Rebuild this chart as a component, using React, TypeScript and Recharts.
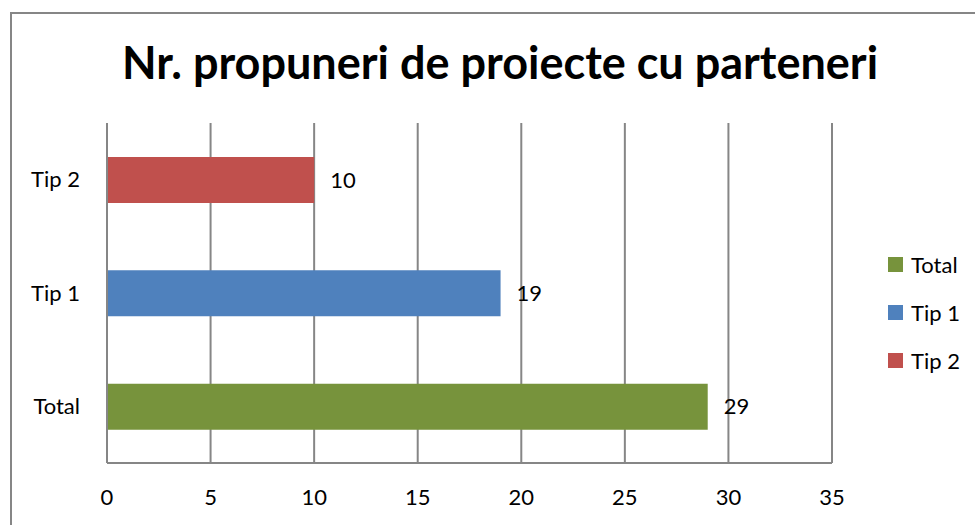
import React from 'react';
import { BarChart, Bar, XAxis, YAxis, CartesianGrid, Cell, LabelList } from 'recharts';

const CATEGORIES = ['Tip 2', 'Tip 1', 'Total'];
const VALUES = [10, 19, 29];
const COLORS = ['#C0504D', '#4F81BD', '#77933C'];
const X_TICKS = [0, 5, 10, 15, 20, 25, 30, 35];
const LEGEND_ORDER = ['Total', 'Tip 1', 'Tip 2'];

const FONT = 'Lato, "Open Sans", sans-serif';
const AXIS_GRAY = '#868686';
const TEXT_SIZE = 22;

const data = CATEGORIES.map((name, i) => ({ name, value: VALUES[i], color: COLORS[i] }));

// legend drawn beside the chart so it does not eat into the plot area
function LegendBox() {
  return (
    <div
      style={{
        position: 'absolute',
        left: 888,
        top: 240,
        fontFamily: FONT,
        fontSize: TEXT_SIZE,
        color: '#000',
      }}
    >
      {LEGEND_ORDER.map((name) => {
        const row = data.find((d) => d.name === name)!;
        return (
          <div key={name} style={{ display: 'flex', alignItems: 'center', height: 48 }}>
            <span style={{ width: 15, height: 15, background: row.color, display: 'block', marginRight: 8 }} />
            <span>{name}</span>
          </div>
        );
      })}
    </div>
  );
}

export default function App() {
  return (
    <div style={{ position: 'fixed', left: 0, top: 0, width: 975, height: 525, background: '#fff', overflow: 'hidden' }}>
      <div
        style={{
          position: 'absolute',
          left: 10,
          top: 12,
          width: 1000,
          height: 600,
          borderLeft: `2px solid ${AXIS_GRAY}`,
          borderTop: `2px solid ${AXIS_GRAY}`,
        }}
      />
      <div
        style={{
          position: 'absolute',
          left: 0,
          top: 34,
          width: 1000,
          textAlign: 'center',
          fontFamily: FONT,
          fontWeight: 700,
          fontSize: 45,
          lineHeight: '56px',
          color: '#000',
        }}
      >
        Nr. propuneri de proiecte cu parteneri
      </div>
      <div style={{ position: 'absolute', left: 0, top: 0 }}>
        <BarChart
          width={975}
          height={525}
          data={data}
          layout="vertical"
          margin={{ top: 123, right: 143, bottom: 0, left: 0 }}
        >
          <CartesianGrid horizontal={false} stroke={AXIS_GRAY} strokeWidth={2} />
          <XAxis
            type="number"
            domain={[0, 35]}
            ticks={X_TICKS}
            interval={0}
            height={62}
            tickLine={false}
            tickSize={0}
            tickMargin={26}
            axisLine={{ stroke: AXIS_GRAY, strokeWidth: 2 }}
            tick={{ fill: '#000', fontSize: TEXT_SIZE, fontFamily: FONT }}
          />
          <YAxis
            type="category"
            dataKey="name"
            width={107}
            tickLine={false}
            tickSize={0}
            tickMargin={27}
            axisLine={{ stroke: AXIS_GRAY, strokeWidth: 2 }}
            tick={{ fill: '#000', fontSize: TEXT_SIZE, fontFamily: FONT }}
          />
          <Bar dataKey="value" barSize={46} isAnimationActive={false}>
            {data.map((d) => (
              <Cell key={d.name} fill={d.color} />
            ))}
            <LabelList
              dataKey="value"
              position="right"
              offset={16}
              style={{ fill: '#000', fontSize: TEXT_SIZE, fontFamily: FONT }}
            />
          </Bar>
        </BarChart>
      </div>
      <LegendBox />
    </div>
  );
}
